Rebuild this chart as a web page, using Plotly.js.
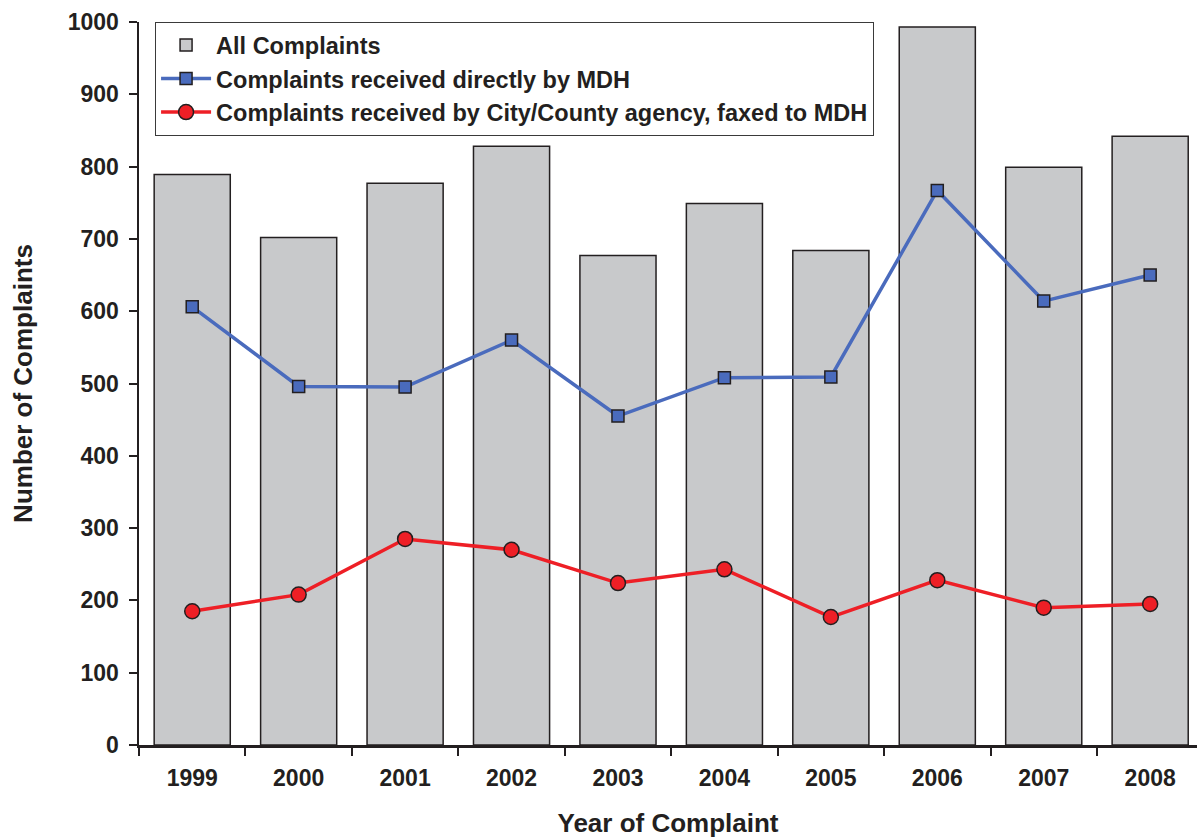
<!DOCTYPE html>
<html>
<head>
<meta charset="utf-8">
<script src="https://cdn.plot.ly/plotly-3.0.1.min.js"></script>
<style>
  html, body { margin: 0; padding: 0; background: #ffffff; }
  #chart { width: 1197px; height: 838px; }
</style>
</head>
<body>
<div id="chart"></div>
<script>
// Complaints by year
const years = ["1999", "2000", "2001", "2002", "2003", "2004", "2005", "2006", "2007", "2008"];
const allComplaints = [789, 702, 777, 828, 677, 749, 684, 993, 799, 842];
const directToMDH = [606, 496, 495, 560, 455, 508, 509, 767, 614, 650];
const viaCityCounty = [185, 208, 285, 270, 224, 243, 177, 228, 190, 195];

const FONT = "Liberation Sans, Arial, Helvetica, sans-serif";
const INK = "#231f20";

const traces = [
  {
    type: "bar",
    name: "<b>All Complaints</b>",
    x: years,
    y: allComplaints,
    width: 0.715,
    legendgroup: "a",
    marker: { color: "#c8c9cb", line: { color: INK, width: 1.5 } },
    hoverinfo: "x+y"
  },
  {
    type: "scatter",
    mode: "lines+markers",
    name: "<b>Complaints received directly by MDH</b>",
    x: years,
    y: directToMDH,
    legendgroup: "b",
    line: { color: "#4a6bbd", width: 3.5 },
    marker: { symbol: "square", size: 12, color: "#4a6bbd", line: { color: INK, width: 1.5 } }
  },
  {
    type: "scatter",
    mode: "lines+markers",
    name: "<b>Complaints received by City/County agency, faxed to MDH</b>",
    x: years,
    y: viaCityCounty,
    legendgroup: "c",
    line: { color: "#ee1f26", width: 3.5 },
    marker: { symbol: "circle", size: 15, color: "#ee1f26", line: { color: INK, width: 1.5 } }
  }
];

const layout = {
  width: 1197,
  height: 838,
  margin: { l: 139, r: 0, t: 22, b: 93 },
  paper_bgcolor: "#ffffff",
  plot_bgcolor: "#ffffff",
  font: { family: FONT, size: 23, color: INK },
  showlegend: true,
  legend: {
    x: 0.015, xanchor: "left",
    y: 1, yanchor: "top",
    bgcolor: "#ffffff",
    bordercolor: "#3a3a3a",
    borderwidth: 1.2,
    tracegroupgap: 3,
    itemwidth: 50,
    traceorder: "normal",
    font: { family: FONT, size: 23.5, color: INK }
  },
  xaxis: {
    type: "category",
    range: [-0.5, 9.44],
    tickson: "boundaries",
    ticks: "outside",
    ticklen: 8,
    tickwidth: 2,
    tickcolor: INK,
    showline: true,
    linecolor: INK,
    linewidth: 2.5,
    showgrid: false,
    zeroline: false,
    tickfont: { family: FONT, size: 23, color: INK, weight: "bold" },
    ticklabelstandoff: 11,
    title: {
      text: "<b>Year of Complaint</b>",
      font: { family: FONT, size: 26, color: INK },
      standoff: 30
    }
  },
  yaxis: {
    range: [0, 1000],
    tickvals: [0, 100, 200, 300, 400, 500, 600, 700, 800, 900, 1000],
    ticks: "outside",
    ticklen: 8,
    tickwidth: 2,
    tickcolor: INK,
    showline: true,
    linecolor: INK,
    linewidth: 2.5,
    showgrid: false,
    zeroline: false,
    tickfont: { family: FONT, size: 23, color: INK, weight: "bold" },
    ticklabelstandoff: 5,
    title: {
      text: "<b>Number of Complaints</b>",
      font: { family: FONT, size: 26, color: INK },
      standoff: 28
    }
  }
};

Plotly.newPlot("chart", traces, layout, { displayModeBar: false, staticPlot: true });
</script>
</body>
</html>
